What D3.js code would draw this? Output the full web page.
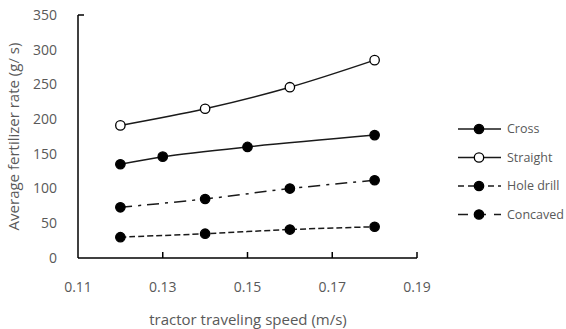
<!DOCTYPE html>
<html>
<head>
<meta charset="utf-8">
<script src="https://cdn.jsdelivr.net/npm/d3@7"></script>
<style>
  body { margin: 0; background: #fff; }
  text { font-family: "Open Sans", "DejaVu Sans", sans-serif; fill: #595959; }
</style>
</head>
<body>
<svg id="chart" width="566" height="329"></svg>
<script>
// data
const crossX = [0.12, 0.13, 0.15, 0.18];
const crossY = [135, 146, 160, 177];
const straightX = [0.12, 0.14, 0.16, 0.18];
const straightY = [191, 215, 246, 285];
const holeX = [0.12, 0.14, 0.16, 0.18];
const holeY = [73, 85, 100, 112];
const concavedX = [0.12, 0.14, 0.16, 0.18];
const concavedY = [30, 35, 41, 45];
const xTicks = [0.11, 0.13, 0.15, 0.17, 0.19];
const yTicks = [0, 50, 100, 150, 200, 250, 300, 350];

const series = [
  { name: "Cross", xs: crossX, ys: crossY, fill: "#000", dash: null, legendDash: null },
  { name: "Straight", xs: straightX, ys: straightY, fill: "#fff", dash: null, legendDash: null },
  { name: "Hole drill", xs: holeX, ys: holeY, fill: "#000", dash: "12,6,3,6", legendDash: "6,4" },
  { name: "Concaved", xs: concavedX, ys: concavedY, fill: "#000", dash: "6,3", legendDash: "10,8" }
];

const svg = d3.select("#chart");
const x = d3.scaleLinear().domain([0.11, 0.19]).range([78, 417]);
const y = d3.scaleLinear().domain([0, 350]).range([258, 15]);

// y tick labels
svg.append("g").selectAll("text").data(yTicks).join("text")
  .attr("x", 57).attr("y", d => y(d)).attr("dy", "0.35em")
  .attr("text-anchor", "end").attr("font-size", 14)
  .text(d => d);

// x tick labels
svg.append("g").selectAll("text").data(xTicks).join("text")
  .attr("x", d => x(d)).attr("y", 292)
  .attr("text-anchor", "middle").attr("font-size", 14)
  .text(d => d3.format(".2f")(d));

// axes
const axisG = svg.append("g").attr("stroke", "#000").attr("stroke-width", 1.5);
axisG.append("line").attr("x1", x(0.11)).attr("x2", x(0.11)).attr("y1", y(350)).attr("y2", y(0));
axisG.append("line").attr("x1", x(0.11)).attr("x2", x(0.19)).attr("y1", y(0)).attr("y2", y(0));
axisG.append("line").attr("x1", x(0.11)).attr("x2", x(0.11) + 6).attr("y1", y(350)).attr("y2", y(350));
axisG.selectAll(".xt").data(xTicks.slice(1)).join("line")
  .attr("x1", d => x(d)).attr("x2", d => x(d)).attr("y1", y(0)).attr("y2", y(0) - 6);

// titles
svg.append("text")
  .attr("transform", `translate(19,${(y(0) + y(350)) / 2}) rotate(-90)`)
  .attr("text-anchor", "middle").attr("font-size", 15)
  .text("Average fertilizer rate (g/ s)");
svg.append("text")
  .attr("x", 248).attr("y", 325).attr("text-anchor", "middle").attr("font-size", 15)
  .text("tractor traveling speed (m/s)");

// lines + markers
const line = d3.line().x(d => x(d[0])).y(d => y(d[1])).curve(d3.curveCatmullRom.alpha(0.5));
series.forEach(s => {
  const pts = s.xs.map((v, i) => [v, s.ys[i]]);
  svg.append("path").datum(pts)
    .attr("d", line).attr("fill", "none").attr("stroke", "#1a1a1a")
    .attr("stroke-width", 1.5).attr("stroke-dasharray", s.dash);
  svg.append("g").selectAll("circle").data(pts).join("circle")
    .attr("cx", d => x(d[0])).attr("cy", d => y(d[1])).attr("r", 4.7)
    .attr("fill", s.fill).attr("stroke", "#000").attr("stroke-width", 1.3);
});

// legend
const leg = svg.append("g");
series.forEach((s, i) => {
  const ly = 129 + i * 28.5;
  leg.append("line").attr("x1", 458).attr("x2", 501).attr("y1", ly).attr("y2", ly)
    .attr("stroke", "#1a1a1a").attr("stroke-width", 1.5).attr("stroke-dasharray", s.legendDash);
  leg.append("circle").attr("cx", 479).attr("cy", ly).attr("r", 4.7)
    .attr("fill", s.fill).attr("stroke", "#000").attr("stroke-width", 1.3);
  leg.append("text").attr("x", 507).attr("y", ly).attr("dy", "0.35em")
    .attr("font-size", 12.5).text(s.name);
});
</script>
</body>
</html>
